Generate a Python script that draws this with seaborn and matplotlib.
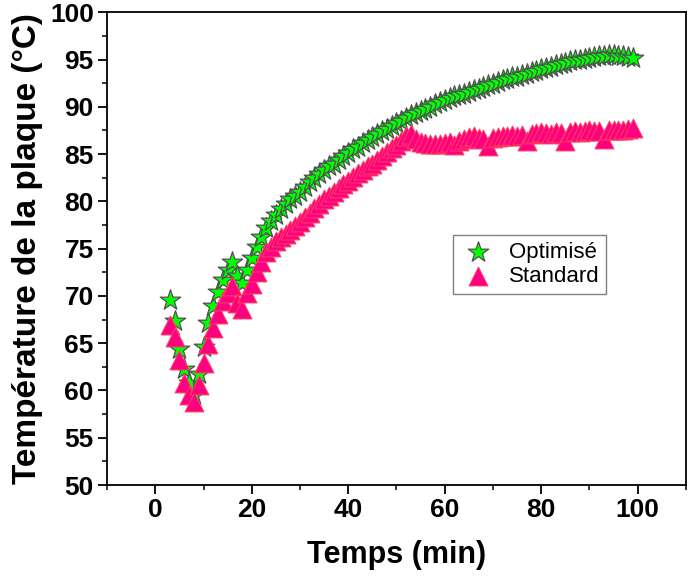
import pandas as pd
import matplotlib.pyplot as plt
import seaborn as sns

# time in minutes (one reading per minute)
temps = list(range(3, 100))

optimise = [
    69.6, 67.4, 64.4, 62.3, 60.8, 59.5, 61.7, 64.6, 67.1, 68.9,
    70.4, 71.7, 72.7, 73.6, 72.1, 71.4, 72.7, 74.0, 75.2, 76.2,
    77.2, 77.9, 78.6, 79.2, 79.7, 80.2, 80.6, 81.0, 81.5, 82.0,
    82.5, 82.9, 83.3, 83.7, 84.0, 84.4, 84.8, 85.1, 85.5, 85.8,
    86.2, 86.5, 86.8, 87.1, 87.4, 87.7, 88.0, 88.3, 88.5, 88.8,
    89.1, 89.3, 89.6, 89.8, 90.0, 90.3, 90.5, 90.7, 90.9, 91.1,
    91.2, 91.4, 91.6, 91.8, 91.9, 92.1, 92.3, 92.4, 92.6, 92.8,
    92.9, 93.1, 93.2, 93.4, 93.5, 93.7, 93.8, 94.0, 94.1, 94.2,
    94.4, 94.5, 94.6, 94.8, 94.9, 95.0, 95.1, 95.2, 95.3, 95.4,
    95.4, 95.5, 95.5, 95.4, 95.4, 95.3, 95.2,
]

standard = [
    66.9, 65.7, 63.2, 60.8, 59.5, 58.8, 60.6, 62.9, 64.9, 66.6,
    68.1, 69.5, 70.3, 71.1, 69.2, 68.6, 70.3, 71.3, 72.5, 73.6,
    74.6, 75.2, 75.8, 76.2, 76.6, 77.0, 77.4, 77.8, 78.3, 78.8,
    79.3, 79.7, 80.2, 80.6, 81.0, 81.4, 81.8, 82.2, 82.6, 83.0,
    83.3, 83.7, 84.0, 84.4, 84.8, 85.2, 85.6, 86.0, 86.4, 86.9,
    87.1, 86.6, 86.3, 86.2, 86.1, 86.1, 86.1, 86.2, 86.3, 86.0,
    86.4, 86.6, 86.8, 86.9, 86.7, 86.6, 85.9, 86.7, 86.8, 86.9,
    86.9, 87.0, 86.9, 87.0, 86.4, 87.1, 87.2, 87.3, 87.2, 87.1,
    87.3, 87.2, 86.4, 87.3, 87.4, 87.3, 87.4, 87.5, 87.4, 87.4,
    86.6, 87.5, 87.6, 87.5, 87.6, 87.7, 87.8,
]

df = pd.DataFrame({"Temps": temps, "Optimise": optimise, "Standard": standard})

sns.set_style("ticks")
plt.rcParams["font.family"] = ["Liberation Sans", "DejaVu Sans"]
plt.rcParams["text.color"] = "black"
plt.rcParams["axes.labelcolor"] = "black"
plt.rcParams["xtick.color"] = "black"
plt.rcParams["ytick.color"] = "black"

fig, ax = plt.subplots(figsize=(6.95, 5.83), dpi=100)
fig.subplots_adjust(left=0.154, right=0.987, bottom=0.168, top=0.979)

sns.scatterplot(data=df, x="Temps", y="Optimise", ax=ax, marker="*", s=240,
                color="#00FF00", edgecolor="#505050", linewidth=0.9, label="Optimisé")
sns.scatterplot(data=df, x="Temps", y="Standard", ax=ax, marker="^", s=185,
                color="#FF0080", edgecolor="#FF4060", linewidth=0.7, label="Standard")

ax.set_xlim(-10, 110)
ax.set_ylim(50, 100)
ax.set_xticks([0, 20, 40, 60, 80, 100])
ax.set_xticks([-10, 10, 30, 50, 70, 90, 110], minor=True)
ax.set_yticks(range(50, 101, 5))
ax.set_yticks([52.5 + 5 * i for i in range(10)], minor=True)

ax.tick_params(axis="both", which="major", direction="out", length=6.5, width=1.3,
               labelsize=19, pad=3, colors="black")
ax.tick_params(axis="both", which="minor", direction="out", length=3.5, width=1.1, colors="black")
for lab in ax.get_xticklabels() + ax.get_yticklabels():
    lab.set_fontweight("bold")
ax.tick_params(top=False, right=False)
for sp in ax.spines.values():
    sp.set_visible(True)
    sp.set_linewidth(1.3)
    sp.set_color("black")

ax.set_xlabel("Temps (min)", fontsize=22, fontweight="bold", labelpad=13, color="black")
ax.set_ylabel("Température de la plaque (°C)", fontsize=24, fontweight="bold", labelpad=5, color="black")

leg = ax.legend(loc="upper left", bbox_to_anchor=(0.652, 0.597), bbox_transform=fig.transFigure,
                fontsize=16, frameon=True, fancybox=False, borderaxespad=0,
                labelspacing=0.15, borderpad=0.3, handletextpad=0.6, handlelength=1.6)
leg.get_frame().set_edgecolor("#606060")
leg.get_frame().set_linewidth(1.0)
for txt in leg.get_texts():
    txt.set_color("black")

plt.savefig("out.png", dpi=100)
